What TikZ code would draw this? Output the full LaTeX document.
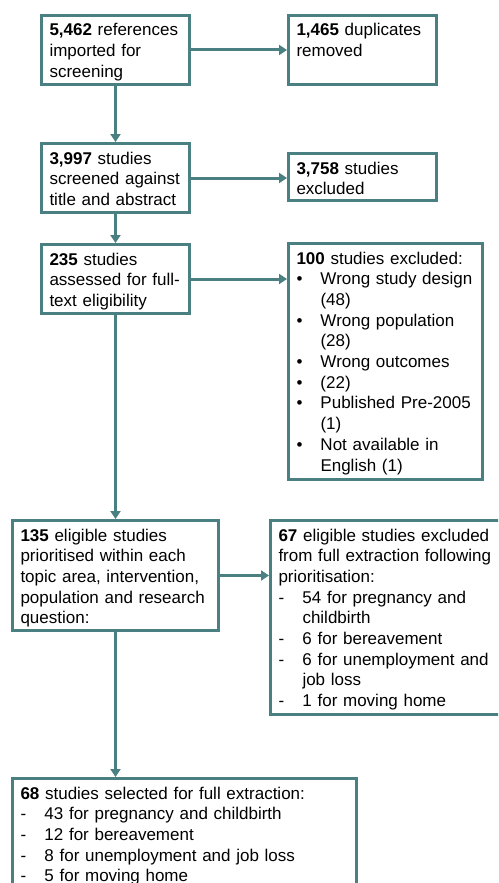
\documentclass[tikz,border=0pt]{standalone}
\usepackage{fontspec}
\setmainfont{Liberation Sans}
\usepackage{tikz}
\definecolor{boxcolor}{rgb}{0.29, 0.50, 0.51}
\usetikzlibrary{arrows.meta}
\newcommand{\flowfont}{\fontsize{17pt}{20.7pt}\selectfont}
\newcommand{\bitem}{\makebox[24pt][l]{•}}
\newcommand{\ditem}{\makebox[24pt][l]{-}}
\newcommand{\indnt}{\hspace*{24pt}}
\tikzset{
	box/.style={
		rectangle,
		draw=boxcolor,
		line width=3pt,
		fill=white,
		anchor=north west,
		inner xsep=8pt,
		inner ysep=0pt,
		text height=20.5pt,
		align=left,
		font=\flowfont
	},
	arrow/.style={
		draw=boxcolor,
		line width=3pt,
		-{Triangle[length=8pt,width=10pt]}
	},
}

\begin{document}
\begin{tikzpicture}[x=1pt,y=-1pt]
	\useasboundingbox (0,0) rectangle (498,883);
	\clip (0,0) rectangle (498,883);
	% left column
	\node [box, text width=132pt, text depth=48.5pt] (refs) at (40,14)
		{\textbf{5,462} references\\imported for\\screening};
	\node [box, text width=132pt, text depth=48.5pt] (screen) at (40,142)
		{\textbf{3,997} studies\\screened against\\title and abstract};
	\node [box, text width=132pt, text depth=48.5pt] (full) at (40,243)
		{\textbf{235} studies\\assessed for full-\\text eligibility};
	\node [box, text width=190pt, text depth=89.5pt] (prio) at (11,519)
		{\textbf{135} eligible studies\\prioritised within each\\topic area, intervention,\\population and research\\question:};
	\node [box, text width=328pt, text depth=100pt] (sel) at (11,777)
		{\textbf{68} studies selected for full extraction:\\
		\ditem 43 for pregnancy and childbirth\\
		\ditem 12 for bereavement\\
		\ditem 8 for unemployment and job loss\\
		\ditem 5 for moving home};
	% right column
	\node [box, text width=132pt, text depth=48.5pt] (dup) at (287,14)
		{\textbf{1,465} duplicates\\removed};
	\node [box, text width=132pt, text depth=26.5pt] (excl) at (287,152)
		{\textbf{3,758} studies\\excluded};
	\node [box, text width=178pt, text depth=215.5pt] (reasons) at (287,242)
		{\textbf{100} studies excluded:\\
		\bitem Wrong study design\\
		\indnt (48)\\
		\bitem Wrong population\\
		\indnt (28)\\
		\bitem Wrong outcomes\\
		\bitem (22)\\
		\bitem Published Pre-2005\\
		\indnt (1)\\
		\bitem Not available in\\
		\indnt English (1)};
	\node [box, text width=220pt, text depth=173.5pt] (drop) at (269,519)
		{\textbf{67} eligible studies excluded\\from full extraction following\\prioritisation:\\
		\ditem 54 for pregnancy and\\
		\indnt childbirth\\
		\ditem 6 for bereavement\\
		\ditem 6 for unemployment and\\
		\indnt job loss\\
		\ditem 1 for moving home};
	% connectors
	\draw [arrow] (refs.south) -- (screen.north);
	\draw [arrow] (screen.south) -- (full.north);
	\draw [arrow] (full.south) -- (prio.north);
	\draw [arrow] (prio.south) -- (prio.south |- sel.north);
	\draw [arrow] (refs.east) -- (refs.east -| dup.west);
	\draw [arrow] (screen.east) -- (screen.east -| excl.west);
	\draw [arrow] (full.east) -- (full.east -| reasons.west);
	\draw [arrow] (prio.east) -- (prio.east -| drop.west);
\end{tikzpicture}
\end{document}
